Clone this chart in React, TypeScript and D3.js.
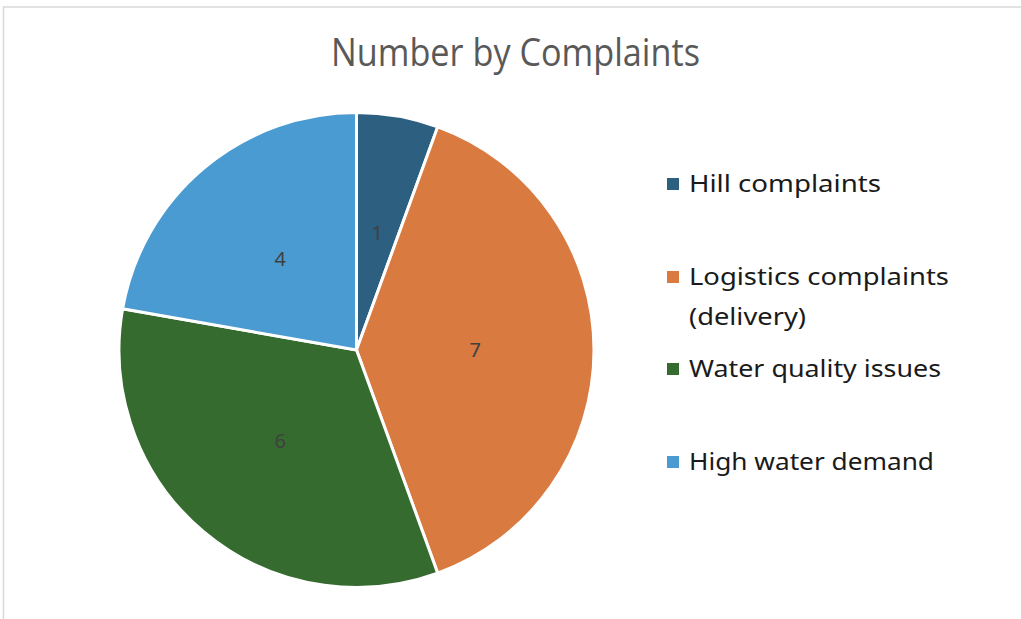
import React from "react";
import * as d3 from "d3";

const categories = ["Hill complaints", "Logistics complaints (delivery)", "Water quality issues", "High water demand"];
const legendLines = [["Hill complaints"], ["Logistics complaints", "(delivery)"], ["Water quality issues"], ["High water demand"]];
const legendWidths = [[192], [260, 117], [252], [245]];
const values = [1, 7, 6, 4];
const colors = ["#2D5F80", "#D97A40", "#356B2F", "#4A9BD2"];
const title = "Number by Complaints";

export default function App() {
  const W = 1021, H = 619;
  const cx = 356.5, cy = 350, r = 237.5;
  const pie = d3.pie<number>().sort(null).value((d) => d)(values);
  const arc = d3.arc<d3.PieArcDatum<number>>().innerRadius(0).outerRadius(r);
  const labelArc = d3.arc<d3.PieArcDatum<number>>().innerRadius(r * 0.5).outerRadius(r * 0.5);
  const legendY = [184, 277, 369, 462];
  return (
    <svg width={W} height={H} style={{ position: "absolute", left: 0, top: 0 }}>
      <rect x={0} y={0} width={W} height={H} fill="#fff" />
      <rect x={3.5} y={7} width={W + 10} height={H + 10} fill="none" stroke="#d9d9d9" strokeWidth={1.5} />
      <text x={515.5} y={66} textAnchor="middle" textLength={369} lengthAdjust="spacingAndGlyphs" fontFamily="'Open Sans', sans-serif" fontSize={38} fill="#595959">{title}</text>
      <g transform={`translate(${cx},${cy})`}>
        {pie.map((p, i) => (
          <path key={categories[i]} d={arc(p) || ""} fill={colors[i]} stroke="#fff" strokeWidth={3} />
        ))}
        {pie.map((p, i) => {
          const [lx, ly] = labelArc.centroid(p);
          return (
            <text key={"l" + i} x={lx} y={ly} dy="0.35em" textAnchor="middle" fontFamily="'Noto Sans', sans-serif" fontSize={20} fill="#404040">{values[i]}</text>
          );
        })}
      </g>
      {legendLines.map((lines, i) => (
        <g key={"lg" + i}>
          <rect x={667} y={legendY[i] - 6} width={12} height={12} fill={colors[i]} />
          {lines.map((t, j) => (
            <text key={j} x={689} y={legendY[i] + j * 40} dy="0.35em" textLength={legendWidths[i][j]} lengthAdjust="spacingAndGlyphs" fontFamily="'Noto Sans', sans-serif" fontSize={24} fill="#1a1a1a">{t}</text>
          ))}
        </g>
      ))}
    </svg>
  );
}
